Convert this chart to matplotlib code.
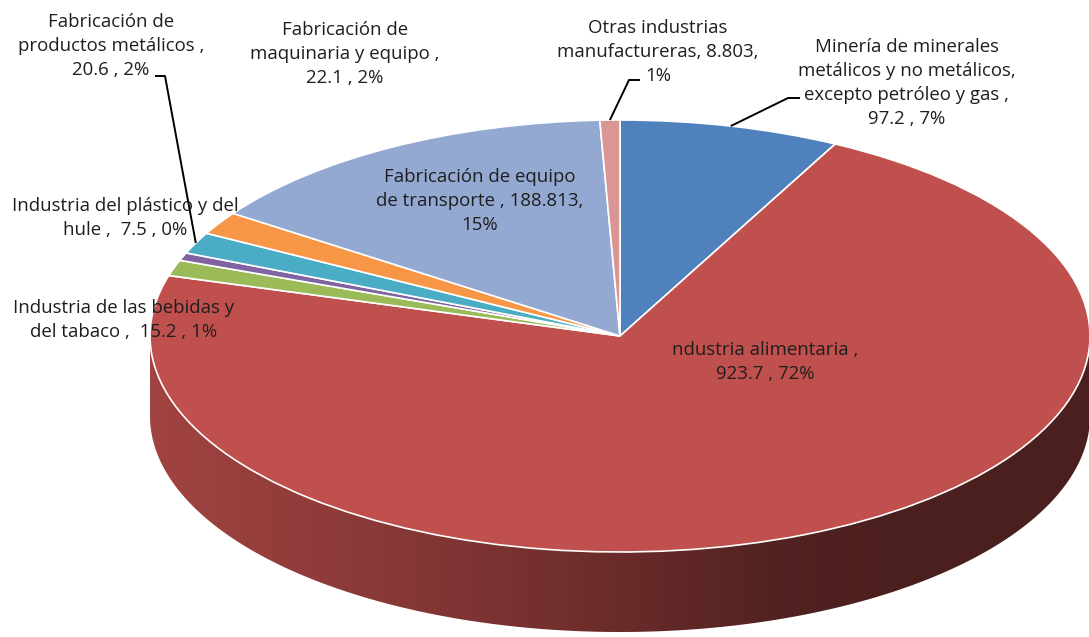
import numpy as np
import matplotlib
matplotlib.use("Agg")
import matplotlib.pyplot as plt
from matplotlib.path import Path
from matplotlib.patches import PathPatch
from matplotlib.colors import to_rgb

# ---------------- data ----------------
categories = [
    "Minería de minerales metálicos y no metálicos, excepto petróleo y gas",
    "Industria alimentaria",
    "Industria de las bebidas y del tabaco",
    "Industria del plástico y del hule",
    "Fabricación de productos metálicos",
    "Fabricación de maquinaria y equipo",
    "Fabricación de equipo de transporte",
    "Otras industrias manufactureras",
]
values = [97.2, 923.7, 15.2, 7.5, 20.6, 22.1, 188.813, 8.803]
label_texts = [
    "Minería de minerales\nmetálicos y no metálicos,\nexcepto petróleo y gas ,\n97.2 , 7%",
    "ndustria alimentaria ,\n923.7 , 72%",
    "Industria de las bebidas y\ndel tabaco ,  15.2 , 1%",
    "Industria del plástico y del\nhule ,  7.5 , 0%",
    "Fabricación de\nproductos metálicos ,\n20.6 , 2%",
    "Fabricación de\nmaquinaria y equipo ,\n22.1 , 2%",
    "Fabricación de equipo\nde transporte , 188.813,\n15%",
    "Otras industrias\nmanufactureras, 8.803,\n1%",
]

# ---------------- style / layout ----------------
colors = ["#4F81BD", "#C0504D", "#9BBB59", "#8064A2", "#4BACC6", "#F79646", "#93A9D1", "#D99694"]
W, H = 1089, 637
CX, CY = 620, 336          # pie centre in pixels
RX, RY = 470, 216          # ellipse radii in pixels
DEPTH_PX = 80
label_pos = [(907, 83), (765, 362), (124, 320), (125, 218), (111, 46), (345, 54), (480, 201), (658, 52)]
leaders = {0: [(800, 98), (788, 98)], 4: [(155, 76), (165, 76)], 7: [(640, 80), (629, 80)]}
FONT = "Open Sans"
FSIZE = 13.4
TEXT_COLOR = "#1e1e1e"

def px2data(px, py):
    return (px - CX) / RX, (CY - py) / RY

depth = DEPTH_PX / RY

fig = plt.figure(figsize=(W / 100, H / 100), dpi=100)
ax = fig.add_axes([0, 0, 1, 1])

wedges, _ = ax.pie(values, colors=colors, startangle=90, counterclock=False,
                   radius=1.0, center=(0, 0),
                   wedgeprops=dict(edgecolor="white", linewidth=1.2, zorder=2))

# side walls with horizontal shading gradient
shade_x = [-1.0, -0.47, 0.0, 0.34, 0.6, 1.0]
shade_f = [0.84, 0.70, 0.55, 0.42, 0.39, 0.39]
for w, col in zip(wedges, colors):
    th = np.linspace(w.theta1, w.theta2, 800)
    lower = np.sin(np.radians(th)) < 0
    if not lower.any():
        continue
    idx = np.where(lower)[0]
    runs = np.split(idx, np.where(np.diff(idx) > 1)[0] + 1)
    base = np.array(to_rgb(col))
    for run in runs:
        t = np.radians(th[run])
        xs, ys = np.cos(t), np.sin(t)
        px_ = np.concatenate([xs, xs[::-1]])
        py_ = np.concatenate([ys, ys[::-1] - depth])
        verts = np.column_stack([px_, py_])
        path = Path(np.vstack([verts, verts[:1]]),
                    [Path.MOVETO] + [Path.LINETO] * (len(verts) - 1) + [Path.CLOSEPOLY])
        patch = PathPatch(path, facecolor="none", edgecolor="none", zorder=0.5)
        ax.add_patch(patch)
        xg = np.linspace(-1, 1, 600)
        f = np.interp(xg, shade_x, shade_f)
        img = (base[None, :] * f[:, None])[None, :, :]
        img = np.repeat(img, 2, axis=0)
        im = ax.imshow(img, extent=(-1, 1, -1 - depth, 0), aspect="auto",
                       interpolation="bilinear", zorder=0.5, origin="lower")
        im.set_clip_path(patch)

ax.set_aspect("auto")
ax.set_xlim(-CX / RX, (W - CX) / RX)
ax.set_ylim(-(H - CY) / RY, CY / RY)
ax.axis("off")

# labels
for txt, (lx, ly) in zip(label_texts, label_pos):
    fig.text(lx / W, 1 - ly / H, txt, ha="center", va="center", multialignment="center",
             fontsize=FSIZE, family=FONT, color=TEXT_COLOR, linespacing=1.45)

# leader lines
for i, pts in leaders.items():
    w = wedges[i]
    mid = np.radians((w.theta1 + w.theta2) / 2)
    xs = [px2data(*p)[0] for p in pts] + [np.cos(mid)]
    ys = [px2data(*p)[1] for p in pts] + [np.sin(mid)]
    ax.plot(xs, ys, color="black", lw=1.4, zorder=3, solid_capstyle="butt")

fig.savefig("out.png", dpi=100)
